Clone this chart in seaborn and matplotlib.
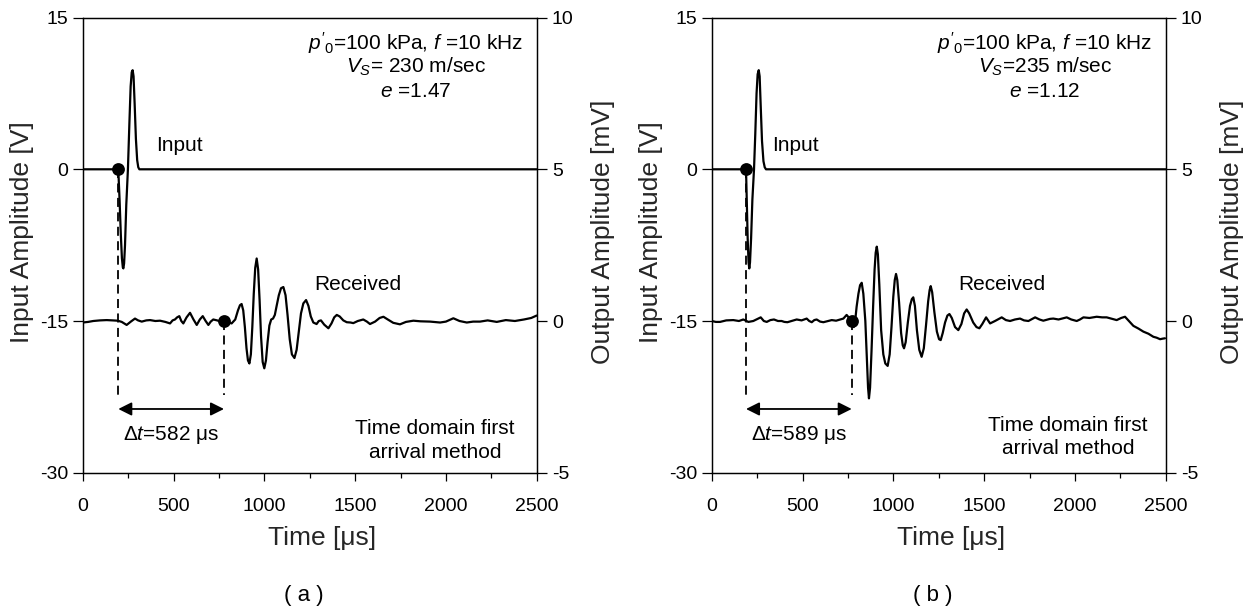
import matplotlib
matplotlib.use("Agg")
import matplotlib.pyplot as plt
import numpy as np
import pandas as pd
import seaborn as sns
from matplotlib.ticker import MultipleLocator

# ---------------- data ----------------
# Input pulses (time in microseconds, amplitude in V)
t_in_a = [0, 100, 196, 203, 210, 216, 221, 224, 228, 233, 240, 249, 257, 264, 270, 275,
          280, 286, 293, 300, 306, 312, 320, 500, 1000, 1500, 2000, 2500]
v_in_a = [0, 0, 0, -3.0, -6.5, -8.8, -9.7, -9.8, -9.3, -7.5, -3.5, 0, 4.5, 8.2, 9.6, 9.8,
          9.2, 6.5, 3.0, 0.9, 0.2, 0, 0, 0, 0, 0, 0, 0]

t_in_b = [0, 100, 189, 193, 198, 203, 207, 211, 217, 224, 233, 240, 247, 253, 259, 264,
          270, 277, 285, 292, 299, 320, 500, 1000, 1500, 2000, 2500]
v_in_b = [0, 0, 0, -3.0, -6.8, -9.2, -9.8, -9.2, -6.8, -3.0, 0, 3.5, 7.5, 9.4, 9.8, 9.2,
          6.2, 2.8, 0.8, 0.2, 0, 0, 0, 0, 0, 0, 0]

# Received signals (time in microseconds, amplitude in mV)
t_rx_a = [0, 30, 58, 95, 132, 165, 193, 215, 242, 265, 288, 305, 325, 350, 371, 400, 426,
          455, 481, 495, 508, 520, 532, 543, 554, 572, 591, 610, 628, 645, 661, 677, 692,
          705, 719, 740, 760, 778, 800, 820, 840, 855, 866, 875, 884, 893, 902, 910, 918,
          926, 934, 942, 950, 958, 966, 974, 982, 991, 1000, 1009, 1018, 1028, 1038, 1048,
          1058, 1068, 1080, 1092, 1105, 1117, 1128, 1140, 1152, 1166, 1178, 1190, 1202,
          1215, 1230, 1243, 1256, 1270, 1288, 1300, 1312, 1330, 1353, 1370, 1385, 1399,
          1415, 1435, 1454, 1475, 1490, 1515, 1545, 1565, 1582, 1610, 1635, 1656, 1680,
          1710, 1747, 1780, 1821, 1860, 1913, 1968, 2000, 2041, 2075, 2115, 2150, 2188,
          2230, 2280, 2330, 2380, 2430, 2470, 2500]
v_rx_a = [-0.05, -0.03, 0.0, 0.02, 0.03, 0.02, 0.01, -0.03, -0.13, -0.02, 0.08, 0.02,
          -0.02, 0.02, 0.03, 0.0, 0.01, -0.03, -0.08, 0.02, 0.05, 0.12, 0.16, 0.0, -0.08,
          0.12, 0.27, 0.05, -0.13, 0.05, 0.16, 0.0, -0.13, -0.02, 0.05, 0.02, -0.02, 0.0,
          -0.04, -0.08, 0.05, 0.35, 0.52, 0.56, 0.35, -0.2, -0.9, -1.3, -1.4, -1.1, -0.2,
          0.9, 1.75, 2.06, 1.7, 0.7, -0.5, -1.35, -1.56, -1.3, -0.7, -0.15, 0.05, 0.08,
          0.2, 0.5, 0.85, 1.08, 1.12, 0.85, 0.2, -0.6, -1.1, -1.22, -0.95, -0.35, 0.25,
          0.58, 0.69, 0.5, 0.15, -0.05, -0.1, 0.0, 0.02, -0.12, -0.24, -0.08, 0.12, 0.2,
          0.15, 0.02, -0.04, -0.05, -0.07, 0.0, 0.05, -0.02, -0.1, -0.02, 0.1, 0.14, 0.05,
          -0.06, -0.11, -0.03, 0.01, -0.01, -0.02, -0.05, -0.02, 0.09, 0.0, -0.05, -0.02,
          -0.02, 0.02, -0.03, 0.03, 0.0, 0.05, 0.1, 0.18]

t_rx_b = [0, 23, 46, 80, 119, 150, 174, 202, 229, 250, 270, 287, 303, 323, 343, 365, 385,
          400, 417, 440, 468, 495, 523, 537, 551, 565, 578, 597, 615, 640, 661, 685, 707,
          725, 743, 757, 771, 782, 790, 798, 808, 817, 826, 835, 846, 855, 861, 866, 872,
          880, 889, 897, 903, 909, 915, 923, 933, 945, 956, 969, 980, 990, 1000, 1008,
          1015, 1022, 1032, 1043, 1052, 1059, 1068, 1080, 1092, 1102, 1110, 1119, 1130,
          1143, 1156, 1168, 1180, 1192, 1200, 1206, 1214, 1226, 1240, 1252, 1261, 1272,
          1285, 1298, 1309, 1322, 1340, 1358, 1375, 1390, 1404, 1418, 1440, 1458, 1474,
          1490, 1511, 1533, 1560, 1597, 1620, 1643, 1670, 1698, 1720, 1744, 1781, 1805,
          1826, 1863, 1881, 1910, 1955, 1980, 2010, 2028, 2047, 2080, 2102, 2120, 2150,
          2175, 2200, 2230, 2255, 2276, 2290, 2322, 2350, 2377, 2405, 2432, 2450, 2469,
          2485, 2496]
v_rx_b = [0.0, -0.03, -0.03, 0.02, 0.03, 0.0, 0.05, -0.03, 0.0, 0.06, 0.12, 0.0, -0.03,
          0.03, 0.05, 0.0, 0.0, -0.03, -0.04, 0.0, 0.05, 0.02, 0.08, 0.0, -0.04, 0.03,
          0.05, -0.02, -0.04, 0.0, 0.03, 0.01, 0.05, 0.08, 0.2, 0.1, -0.1, -0.2, 0.0, 0.47,
          0.9, 1.18, 1.26, 0.9, 0.0, -1.3, -2.2, -2.55, -2.2, -1.0, 0.5, 1.7, 2.25, 2.45,
          2.2, 1.2, -0.3, -1.1, -1.4, -1.48, -1.1, -0.2, 0.8, 1.35, 1.55, 1.35, 0.6, -0.4,
          -0.8, -0.9, -0.7, -0.05, 0.5, 0.72, 0.78, 0.5, -0.3, -0.95, -1.18, -0.9, -0.15,
          0.65, 1.02, 1.15, 0.95, 0.3, -0.35, -0.6, -0.63, -0.4, -0.05, 0.18, 0.23, 0.1,
          -0.2, -0.3, -0.1, 0.25, 0.38, 0.25, -0.05, -0.2, -0.24, -0.1, 0.12, -0.08, 0.0,
          0.12, 0.03, 0.0, 0.05, 0.08, 0.02, 0.0, 0.12, 0.05, 0.01, 0.07, 0.08, 0.05,
          0.12, 0.05, 0.0, 0.05, 0.12, 0.1, 0.12, 0.14, 0.12, 0.12, 0.08, 0.03, 0.1, 0.14,
          0.05, -0.16, -0.25, -0.35, -0.42, -0.52, -0.55, -0.6, -0.58, -0.57]

# picked first-arrival points (time, input-axis value)
pick_t_a = [196, 778]
pick_v_a = [0, -15]
pick_t_b = [189, 771]
pick_v_b = [0, -15]

info_a = [r"$p'_{\mathit{0}}$=100 kPa, $f$ =10 kHz", r"$V_{S}$= 230 m/sec", r"$e$ =1.47"]
info_b = [r"$p'_{\mathit{0}}$=100 kPa, $f$ =10 kHz", r"$V_{S}$=235 m/sec", r"$e$ =1.12"]
dt_a = r"$\Delta t$=582 μs"
dt_b = r"$\Delta t$=589 μs"
method_lines = ["Time domain first", "arrival method"]
x_ticks = [0, 500, 1000, 1500, 2000, 2500]
in_ticks = [15, 0, -15, -30]
out_ticks = [10, 5, 0, -5]

# ---------------- style ----------------
sns.set_style("ticks")
plt.rcParams["font.family"] = ["Liberation Sans", "DejaVu Sans"]
plt.rcParams.update({
    "mathtext.fontset": "custom",
    "mathtext.rm": "Liberation Sans",
    "mathtext.it": "Liberation Sans:italic",
    "mathtext.bf": "Liberation Sans:bold",
    "axes.unicode_minus": False,
    "axes.edgecolor": "black",
    "axes.linewidth": 0.9,
    "xtick.color": "black",
    "ytick.color": "black",
    "text.color": "black",
})

fig = plt.figure(figsize=(12.54, 6.12), dpi=100)
W, H = 1254.0, 612.0
ax_w = 454 / W
ax_h = 455.1 / H
ax_b = 1 - 472.7 / H
axA = fig.add_axes([82.7 / W, ax_b, ax_w, ax_h])
axB = fig.add_axes([711.7 / W, ax_b, ax_w, ax_h])

TICK_FS = 14
LABEL_FS = 19
ANN_FS = 15


def panel(ax, t_in, v_in, t_rx, v_rx, pt, pv, info, dt_txt, input_x, recv_x, meth_x, meth_y, tag, tag_x):
    ax2 = ax.twinx()
    ax.set_zorder(ax2.get_zorder() + 1)
    ax.patch.set_visible(False)

    d_in = pd.DataFrame({"t": t_in, "v": v_in})
    d_rx = pd.DataFrame({"t": t_rx, "v": v_rx})
    sns.lineplot(data=d_in, x="t", y="v", ax=ax, color="black", lw=1.6,
                 estimator=None, sort=False)
    sns.lineplot(data=d_rx, x="t", y="v", ax=ax2, color="black", lw=1.6,
                 estimator=None, sort=False)

    ax.set_xlim(0, 2500)
    ax.set_ylim(-30, 15)
    ax2.set_ylim(-5, 10)

    # dashed pick lines and arrow
    for t0, v0 in zip(pt, pv):
        ax.plot([t0, t0], [v0, -22.3], color="black", lw=1.3, ls=(0, (5, 3)), zorder=3)
    d_pk = pd.DataFrame({"t": pt, "v": pv})
    sns.scatterplot(data=d_pk, x="t", y="v", ax=ax, color="black", s=85,
                    edgecolor="black", linewidth=0, zorder=5)
    ax.annotate("", xy=(pt[1], -23.7), xytext=(pt[0], -23.7),
                arrowprops=dict(arrowstyle="<|-|>", color="black", lw=1.3,
                                mutation_scale=20, shrinkA=0, shrinkB=0))
    ax.text((pt[0] + pt[1]) / 2, -26.3, dt_txt, ha="center", va="center", fontsize=ANN_FS)

    # info text
    for yv, s in zip([12.5, 10.1, 7.65], info):
        ax.text(1835, yv, s, ha="center", va="center", fontsize=ANN_FS)
    ax.text(input_x, 2.4, "Input", ha="left", va="center", fontsize=ANN_FS)
    ax.text(recv_x, -11.35, "Received", ha="left", va="center", fontsize=ANN_FS)
    for yv, s in zip(meth_y, method_lines):
        ax.text(meth_x, yv, s, ha="center", va="center", fontsize=ANN_FS)

    # ticks
    ax.set_xticks(x_ticks)
    ax.xaxis.set_minor_locator(MultipleLocator(250))
    ax.set_yticks(in_ticks)
    ax2.set_yticks(out_ticks)
    ax.tick_params(axis="x", which="major", direction="out", length=6, width=0.9,
                   labelsize=TICK_FS, pad=12)
    ax.tick_params(axis="x", which="minor", direction="out", length=3.5, width=0.9)
    ax.tick_params(axis="y", which="major", direction="out", length=7, width=0.9,
                   labelsize=TICK_FS, pad=3.5)
    ax2.tick_params(axis="y", which="major", direction="out", length=7, width=0.9,
                    labelsize=TICK_FS, pad=4)
    for a in (ax, ax2):
        for sp in a.spines.values():
            sp.set_visible(True)
            sp.set_linewidth(0.9)
            sp.set_color("black")

    ax.set_xlabel("Time [μs]", fontsize=LABEL_FS)
    ax.xaxis.set_label_coords(0.527, -0.1435)
    ax.xaxis.label.set_va("center")
    ax.set_ylabel("Input Amplitude [V]", fontsize=LABEL_FS)
    ax.yaxis.set_label_coords(-0.133, 0.529)
    ax.yaxis.label.set_va("center")
    ax2.set_ylabel("Output Amplitude [mV]", fontsize=LABEL_FS, rotation=90)
    ax2.yaxis.set_label_coords(1.145, 0.529)
    ax2.yaxis.label.set_va("center")

    fig.text(tag_x, 1 - 595 / H, tag, ha="center", va="center", fontsize=16)


panel(axA, t_in_a, v_in_a, t_rx_a, v_rx_a, pick_t_a, pick_v_a, info_a, dt_a,
      407, 1274, 1940, [-25.6, -28.0], "( a )", 303.5 / W)
panel(axB, t_in_b, v_in_b, t_rx_b, v_rx_b, pick_t_b, pick_v_b, info_b, dt_b,
      330, 1358, 1961, [-25.3, -27.6], "( b )", 932.5 / W)

fig.savefig("out.png", dpi=100, facecolor="white")
